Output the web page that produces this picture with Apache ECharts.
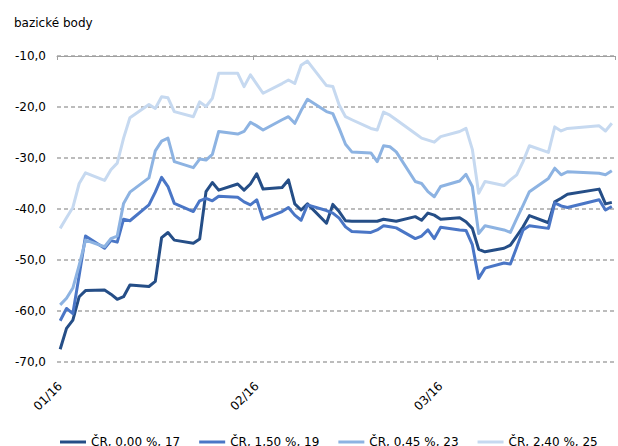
<!DOCTYPE html>
<html>
<head>
<meta charset="utf-8">
<script src="https://cdn.jsdelivr.net/npm/echarts@6/dist/echarts.min.js"></script>
<style>html,body{margin:0;padding:0;background:#fff}#c{width:618px;height:446px}</style>
</head>
<body>
<div id="c"></div>
<script>
const dates = [
 '2016-01-04','2016-01-05','2016-01-06','2016-01-07','2016-01-08',
 '2016-01-11','2016-01-12','2016-01-13','2016-01-14','2016-01-15',
 '2016-01-18','2016-01-19','2016-01-20','2016-01-21','2016-01-22',
 '2016-01-25','2016-01-26','2016-01-27','2016-01-28','2016-01-29',
 '2016-02-01','2016-02-02','2016-02-03','2016-02-04','2016-02-05',
 '2016-02-08','2016-02-09','2016-02-10','2016-02-11','2016-02-12',
 '2016-02-15','2016-02-16','2016-02-17','2016-02-18','2016-02-19',
 '2016-02-22','2016-02-23','2016-02-24','2016-02-25','2016-02-26',
 '2016-02-29','2016-03-01','2016-03-02','2016-03-03','2016-03-04',
 '2016-03-07','2016-03-08','2016-03-09','2016-03-10','2016-03-11',
 '2016-03-14','2016-03-15','2016-03-16','2016-03-17','2016-03-18',
 '2016-03-21','2016-03-22','2016-03-23','2016-03-24',
 '2016-03-29','2016-03-30','2016-03-31'
];
const seriesNames = ['ČR, 0,00 %, 17','ČR, 1,50 %, 19','ČR, 0,45 %, 23','ČR, 2,40 %, 25'];
const cr17 = [
 -67.5,-63.4,-61.8,-57.2,-56.0,
 -55.9,-56.7,-57.7,-57.2,-54.9,
 -55.2,-54.2,-45.6,-44.6,-46.1,
 -46.7,-45.9,-36.6,-34.8,-36.3,
 -35.1,-36.3,-35.1,-33.1,-36.1,
 -35.8,-34.3,-39.0,-40.2,-39.0,
 -42.8,-39.1,-40.5,-42.3,-42.4,
 -42.4,-42.4,-42.0,-42.2,-42.4,
 -41.5,-42.2,-40.8,-41.2,-42.0,
 -41.7,-42.5,-43.8,-47.9,-48.4,
 -47.7,-47.1,-45.3,-43.5,-41.3,
 -42.7,-38.6,-37.9,-37.1,
 -36.1,-39.0,-38.7
];
const cr19 = [
 -61.9,-59.5,-60.5,-53.0,-45.3,
 -47.7,-46.2,-46.5,-42.0,-42.3,
 -39.2,-36.7,-33.8,-35.6,-38.9,
 -40.5,-38.4,-37.9,-38.4,-37.5,
 -37.7,-38.6,-39.2,-38.2,-42.0,
 -40.5,-39.7,-41.2,-42.2,-39.2,
 -40.3,-40.8,-41.8,-43.5,-44.4,
 -44.6,-44.1,-43.3,-43.5,-43.7,
 -45.8,-45.3,-44.1,-45.8,-43.6,
 -44.1,-44.2,-47.0,-53.6,-51.6,
 -50.6,-50.8,-47.5,-44.1,-43.3,
 -43.8,-38.8,-39.4,-39.7,
 -38.2,-40.2,-39.5
];
const cr23 = [
 -58.8,-57.5,-55.5,-51.0,-46.1,
 -47.4,-45.8,-45.3,-38.9,-36.7,
 -33.9,-28.6,-26.7,-26.1,-30.7,
 -31.9,-30.2,-30.4,-29.3,-24.8,
 -25.3,-24.8,-23.0,-23.7,-24.5,
 -22.5,-21.9,-23.2,-20.7,-18.5,
 -20.9,-21.3,-24.2,-27.3,-28.8,
 -29.0,-30.7,-27.6,-27.8,-28.8,
 -34.6,-35.0,-36.6,-37.6,-35.6,
 -34.5,-33.2,-35.6,-44.8,-43.3,
 -44.1,-44.6,-41.9,-39.3,-36.6,
 -34.0,-32.0,-33.3,-32.7,
 -33.0,-33.3,-32.5
];
const cr25 = [
 -43.8,-41.7,-39.7,-35.0,-32.9,
 -34.4,-32.3,-31.0,-26.1,-22.1,
 -19.5,-20.3,-18.0,-18.2,-20.9,
 -21.9,-19.0,-19.9,-18.3,-13.4,
 -13.4,-16.0,-13.7,-15.5,-17.3,
 -15.4,-14.7,-15.4,-11.8,-11.0,
 -15.8,-16.0,-19.6,-21.9,-22.5,
 -24.2,-24.5,-21.0,-21.6,-22.5,
 -25.2,-26.1,-26.5,-26.9,-25.8,
 -24.8,-24.2,-28.3,-36.9,-34.6,
 -35.4,-34.3,-33.3,-30.7,-27.6,
 -28.9,-23.9,-24.7,-24.2,
 -23.7,-24.7,-23.2
];
const tickDates = ['2016-01-04','2016-02-04','2016-03-04'];
const tickLabels = ['01/16','02/16','03/16'];
const axisStart = '2016-01-04';
const axisEnd = '2016-04-01';
const colors = ['#254E87','#4A76C6','#8DB3E2','#C6D9F0'];

const dayMs = 86400000;
const t0 = Date.parse(axisStart + 'T00:00:00Z');
const dayOf = s => Math.round((Date.parse(s + 'T00:00:00Z') - t0) / dayMs);
const nDays = dayOf(axisEnd);
// calendar-day categories of the date axis
const dayCategories = [];
for (let i = 0; i < nDays; i++) dayCategories.push(new Date(t0 + i * dayMs).toISOString().slice(0, 10));
const labelAt = {};
tickDates.forEach((d, i) => { labelAt[dayOf(d)] = tickLabels[i]; });
const isTick = idx => labelAt[idx] !== undefined;

const allVals = [cr17, cr19, cr23, cr25];
const font = 'DejaVu Sans';

const chart = echarts.init(document.getElementById('c'), null, {renderer: 'svg'});
chart.setOption({
  animation: false,
  backgroundColor: '#fff',
  title: {
    text: 'bazické body', left: 9, top: 12,
    textStyle: {fontFamily: font, fontSize: 12, fontWeight: 'normal', color: '#000'}
  },
  legend: {
    left: 55, top: 431,
    itemWidth: 26, itemHeight: 3, itemGap: 19,
    icon: 'rect',
    textStyle: {fontFamily: font, fontSize: 12, color: '#000'},
    data: seriesNames
  },
  grid: {left: 57, right: 3, top: 56, bottom: 84, containLabel: false},
  xAxis: [{
    type: 'category', data: dayCategories, boundaryGap: true, position: 'bottom',
    axisLine: {show: false}, axisTick: {show: false}, splitLine: {show: false},
    axisLabel: {
      interval: (idx) => isTick(idx), rotate: 45, margin: 22,
      fontFamily: font, fontSize: 12, color: '#000',
      formatter: (val, idx) => labelAt[idx] || ''
    }
  }, {
    type: 'category', data: dayCategories, boundaryGap: true, position: 'top',
    axisLine: {show: true, lineStyle: {color: '#a0a0a0', width: 1}},
    axisTick: {show: true, inside: true, length: 4, interval: (idx) => isTick(idx), lineStyle: {color: '#a0a0a0'}},
    axisLabel: {show: false}, splitLine: {show: false}
  }],
  yAxis: {
    type: 'value', min: -70, max: -10, interval: 10,
    axisLine: {show: false}, axisTick: {show: false},
    axisLabel: {
      fontFamily: font, fontSize: 12, color: '#000', margin: 11,
      formatter: v => v.toFixed(1).replace('.', ',')
    },
    splitLine: {show: true, lineStyle: {color: '#a6a6a6', width: 1.5, type: [4, 3]}}
  },
  series: seriesNames.map((name, k) => ({
    name, type: 'line', xAxisIndex: 0, z: 3,
    showSymbol: false, symbol: 'none',
    color: colors[k],
    lineStyle: {width: 3, color: colors[k], join: 'round'},
    data: dates.map((d, i) => [dayOf(d), allVals[k][i]])
  }))
});
</script>
</body>
</html>
